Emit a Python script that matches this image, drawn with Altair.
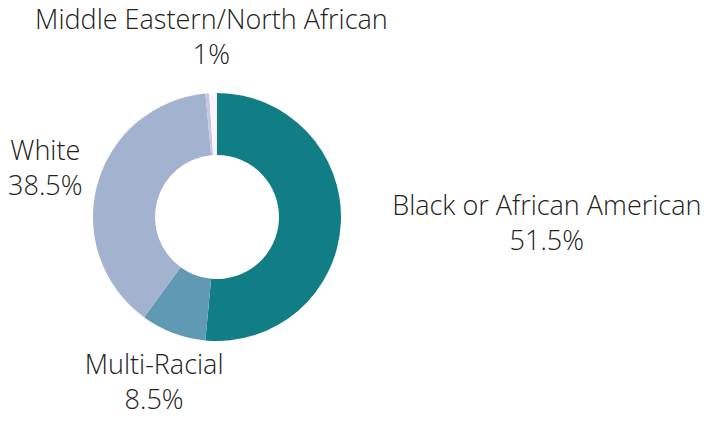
import altair as alt
import pandas as pd

categories = ["Black or African American", "Multi-Racial", "White", "Other", "Middle Eastern/North African"]
values = [51.5, 8.5, 38.5, 0.5, 1]
show_label = [True, True, True, False, True]
colors = ["#117e85", "#5f9ab2", "#a3b3cf", "#c6c7e0", "#fbf3fb"]


def fmt(v):
    return f"{v:g}"


df = pd.DataFrame({
    "category": categories,
    "value": values,
    "idx": list(range(len(categories))),
    "show": show_label,
    "label": [f"{c}\n{fmt(v)}%" for c, v in zip(categories, values)],
})

cx, cy = 209, 209
color_scale = alt.Scale(domain=categories, range=colors)

base = alt.Chart(df).encode(
    theta=alt.Theta("value:Q", stack=True),
    order=alt.Order("idx:Q"),
)

arcs = base.mark_arc(radius=124, radius2=62).encode(
    color=alt.Color("category:N", scale=color_scale, legend=None),
    x=alt.value(cx),
    y=alt.value(cy),
)

text_common = dict(font="Open Sans", fontSize=27, fontWeight=300, color="#222222",
                   lineBreak="\n", lineHeight=35, baseline="middle", align="center", dy=-18)

labels_center = base.mark_text(radius=178, **text_common).encode(
    text="lab_c:N", x=alt.value(cx), y=alt.value(cy),
).transform_calculate(lab_c="datum.show && datum.idx != 0 ? datum.label : ''")

labels_right = base.mark_text(radius=178, dx=152, **text_common).encode(
    text="lab_r:N", x=alt.value(cx), y=alt.value(cy),
).transform_calculate(lab_r="datum.show && datum.idx == 0 ? datum.label : ''")

chart = alt.layer(arcs, labels_center, labels_right).properties(
    width=693, height=404, padding=0, autosize=alt.AutoSizeParams(type="none"),
).configure_view(stroke=None)

chart.save("out.html", embed_options={"renderer": "svg", "actions": False})
